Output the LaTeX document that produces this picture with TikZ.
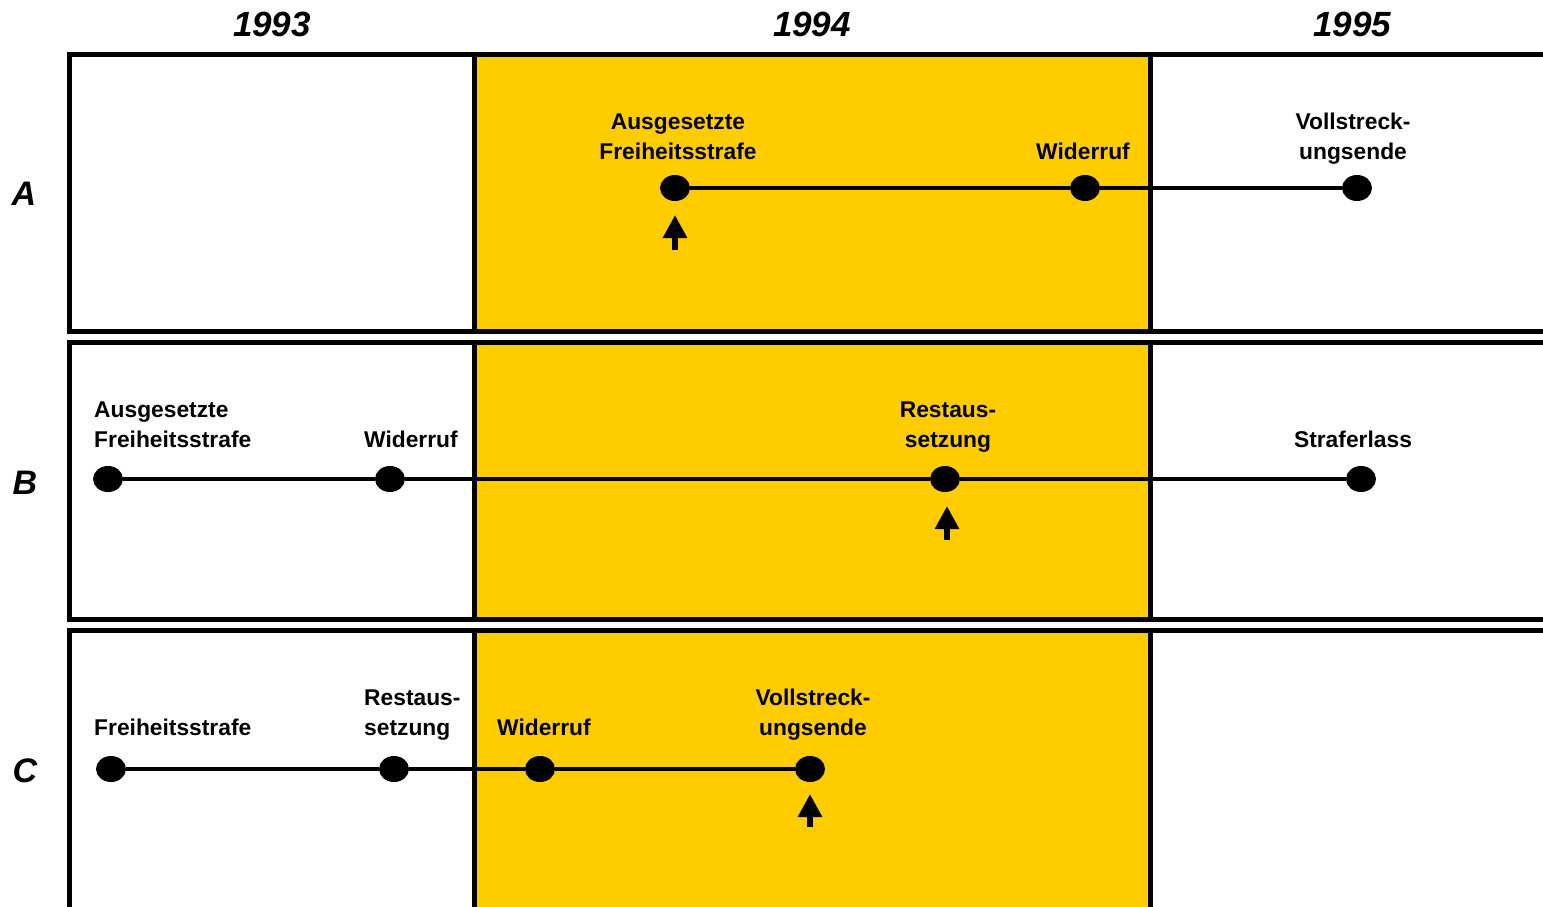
\documentclass[tikz,border=0pt]{standalone}
\usepackage{fontspec}
\setmainfont{Liberation Sans}
\usetikzlibrary{shapes.geometric,arrows.meta}
\definecolor{gelb}{HTML}{FFCC00}
\tikzset{
  frame/.style={line width=5pt},
  tl/.style={line width=3.5pt},
  dot/.style={ellipse,fill=black,minimum width=30pt,minimum height=26pt,inner sep=0pt},
  lbl/.style={font=\fontsize{22.8}{30}\selectfont\bfseries,inner sep=0pt,anchor=base},
  year/.style={font=\fontsize{35}{40}\selectfont\bfseries\itshape,inner sep=0pt,anchor=base},
  row/.style={font=\fontsize{34}{40}\selectfont\bfseries\itshape,inner sep=0pt,anchor=base},
  uparr/.style={line width=6pt,-{Triangle[width=23pt,length=23pt]}}
}
\begin{document}
\begin{tikzpicture}[x=1pt,y=-1pt]
\useasboundingbox (0,0) rectangle (1543,906);
% yellow fills
\fill[gelb] (474.5,54.5) rectangle (1150.5,331);
\fill[gelb] (474.5,342.5) rectangle (1150.5,619.5);
\fill[gelb] (474.5,630.5) rectangle (1150.5,915);
% frames
\draw[frame] (1550,54.5) -- (69.5,54.5) -- (69.5,331) -- (1550,331);
\draw[frame] (1550,342.5) -- (69.5,342.5) -- (69.5,619.5) -- (1550,619.5);
\draw[frame] (1550,630.5) -- (69.5,630.5) -- (69.5,915);
\foreach \yt/\yb in {54.5/331,342.5/619.5,630.5/915}{
  \draw[frame] (474.5,\yt) -- (474.5,\yb);
  \draw[frame] (1150.5,\yt) -- (1150.5,\yb);
}
% years
\node[year] (y93) at (272,36) {1993};
\node[year] (y94) at (812,36) {1994};
\node[year] (y95) at (1352,36) {1995};
% row labels
\node[row] (rA) at (24,205) {A};
\node[row] (rB) at (25,494) {B};
\node[row] (rC) at (25,782) {C};
% Row A
\node[dot] (a1) at (675,188) {};
\node[dot] (a2) at (1085,188) {};
\node[dot] (a3) at (1357,188) {};
\draw[tl] (a1) -- (a2) -- (a3);
\node[lbl,align=center] (la1) at (678,159) {Ausgesetzte\\Freiheitsstrafe};
\node[lbl] (la2) at (1083,159) {Widerruf};
\node[lbl,align=center] (la3) at (1353,159) {Vollstreck-\\ungsende};
\draw[uparr] ([yshift=-62pt]a1.center) -- ([yshift=-27pt]a1.center);
% Row B
\node[dot] (b1) at (108,479) {};
\node[dot] (b2) at (390,479) {};
\node[dot] (b3) at (945,479) {};
\node[dot] (b4) at (1361,479) {};
\draw[tl] (b1) -- (b2) -- (b3) -- (b4);
\node[lbl,align=left,anchor=base west] (lb1) at (94,447) {Ausgesetzte\\Freiheitsstrafe};
\node[lbl,anchor=base west] (lb2) at (364,447) {Widerruf};
\node[lbl,align=center] (lb3) at (948,447) {Restaus-\\setzung};
\node[lbl] (lb4) at (1353,447) {Straferlass};
\draw[uparr] ([xshift=2pt,yshift=-61pt]b3.center) -- ([xshift=2pt,yshift=-27pt]b3.center);
% Row C
\node[dot] (c1) at (111,769) {};
\node[dot] (c2) at (394,769) {};
\node[dot] (c3) at (540,769) {};
\node[dot] (c4) at (810,769) {};
\draw[tl] (c1) -- (c2) -- (c3) -- (c4);
\node[lbl,anchor=base west] (lc1) at (94,735) {Freiheitsstrafe};
\node[lbl,align=left,anchor=base west] (lc2) at (364,735) {Restaus-\\setzung};
\node[lbl,anchor=base west] (lc3) at (497,735) {Widerruf};
\node[lbl,align=center] (lc4) at (813,735) {Vollstreck-\\ungsende};
\draw[uparr] ([yshift=-58pt]c4.center) -- ([yshift=-25pt]c4.center);
\end{tikzpicture}
\end{document}
